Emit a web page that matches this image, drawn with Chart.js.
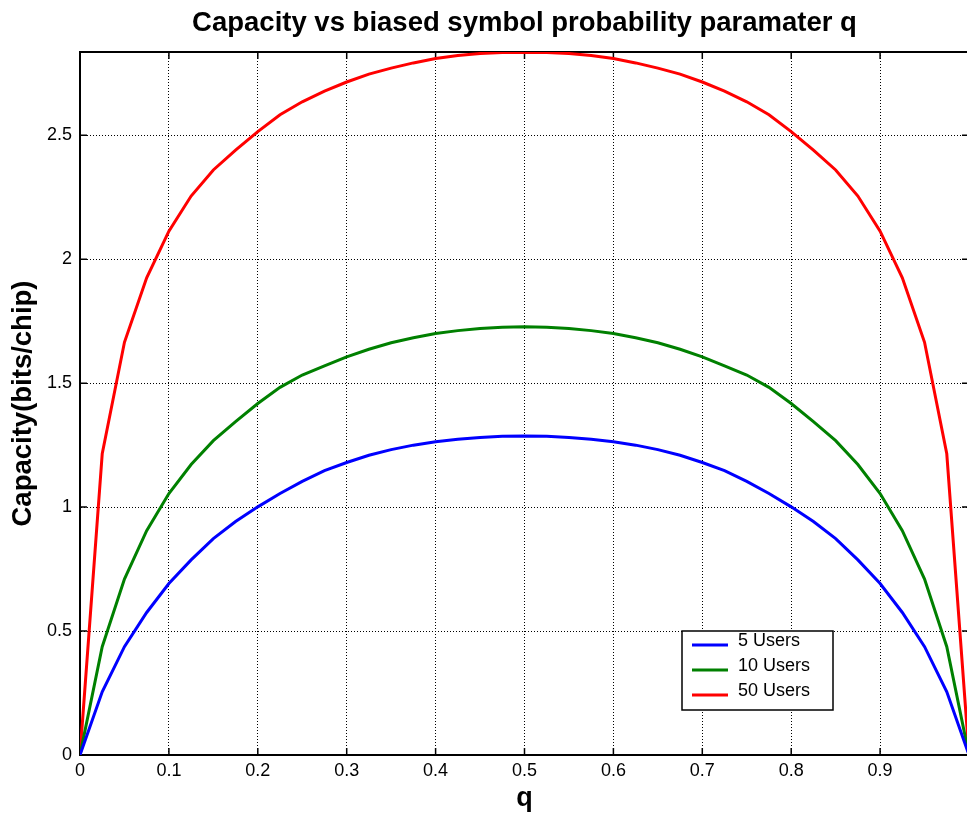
<!DOCTYPE html>
<html>
<head>
<meta charset="utf-8">
<script src="https://cdn.jsdelivr.net/npm/chart.js@4/dist/chart.umd.min.js"></script>
<style>
  html, body { margin: 0; padding: 0; overflow: hidden; background: #fff; }
  #wrap { width: 967px; height: 813px; overflow: hidden; position: relative; }
  #grafico { display: block; }
</style>
</head>
<body>
<div id="wrap"><canvas id="grafico" width="975" height="813" style="width:975px;height:813px"></canvas></div>
<script>
// valores
const q = [0, 0.025, 0.05, 0.075, 0.1, 0.125, 0.15, 0.175, 0.2, 0.225, 0.25, 0.275, 0.3, 0.325, 0.35, 0.375, 0.4, 0.425, 0.45, 0.475, 0.5,
  0.525, 0.55, 0.575, 0.6, 0.625, 0.65, 0.675, 0.7, 0.725, 0.75, 0.775, 0.8, 0.825, 0.85, 0.875, 0.9, 0.925, 0.95, 0.975, 1];

const users5 = [0, 0.255, 0.437, 0.575, 0.692, 0.787, 0.873, 0.942, 1.001, 1.055, 1.104, 1.147, 1.18, 1.209, 1.232, 1.25, 1.264, 1.274, 1.281, 1.286, 1.287,
  1.286, 1.281, 1.274, 1.264, 1.25, 1.232, 1.209, 1.18, 1.147, 1.104, 1.055, 1.001, 0.942, 0.873, 0.787, 0.692, 0.575, 0.437, 0.255, 0];

const users10 = [0, 0.437, 0.71, 0.905, 1.055, 1.172, 1.268, 1.345, 1.418, 1.483, 1.533, 1.57, 1.606, 1.637, 1.663, 1.683, 1.7, 1.712, 1.721, 1.726, 1.728,
  1.726, 1.721, 1.712, 1.7, 1.683, 1.663, 1.637, 1.606, 1.57, 1.533, 1.483, 1.418, 1.345, 1.268, 1.172, 1.055, 0.905, 0.71, 0.437, 0];

const users50 = [0, 1.215, 1.665, 1.925, 2.113, 2.255, 2.36, 2.44, 2.515, 2.583, 2.635, 2.678, 2.715, 2.747, 2.771, 2.792, 2.81, 2.822, 2.83, 2.834, 2.835,
  2.834, 2.83, 2.822, 2.81, 2.792, 2.771, 2.747, 2.715, 2.678, 2.635, 2.583, 2.515, 2.44, 2.36, 2.255, 2.113, 1.925, 1.665, 1.215, 0];

const etiquetas = ['5 Users', '10 Users', '50 Users'];
const colores = ['#0000ff', '#008000', '#ff0000'];

const fuente = '"Liberation Sans", Arial, Helvetica, sans-serif';

function puntos(serie) {
  return q.map((x, i) => ({ x: x, y: serie[i] }));
}

// marco superior/derecho y marcas hacia adentro
const marco = {
  id: 'marco',
  beforeDatasetsDraw(chart) {
    const { ctx, chartArea: a, scales: { x, y } } = chart;
    ctx.save();
    ctx.strokeStyle = '#000';
    ctx.lineWidth = 2;
    ctx.beginPath();
    ctx.moveTo(a.left, a.top);
    ctx.lineTo(a.right, a.top);
    ctx.lineTo(a.right, a.bottom);
    ctx.stroke();
    ctx.lineWidth = 1.5;
    ctx.beginPath();
    x.ticks.forEach(t => {
      const px = x.getPixelForValue(t.value);
      ctx.moveTo(px, a.bottom); ctx.lineTo(px, a.bottom - 7);
      ctx.moveTo(px, a.top); ctx.lineTo(px, a.top + 7);
    });
    y.ticks.forEach(t => {
      const py = y.getPixelForValue(t.value);
      ctx.moveTo(a.left, py); ctx.lineTo(a.left + 7, py);
      ctx.moveTo(a.right, py); ctx.lineTo(a.right - 7, py);
    });
    ctx.stroke();
    ctx.restore();
  }
};

// leyenda dentro del area del grafico
const leyenda = {
  id: 'leyenda',
  afterDatasetsDraw(chart) {
    const ctx = chart.ctx;
    const bx = 682, by = 631, bw = 151, bh = 79;
    ctx.save();
    ctx.fillStyle = '#fff';
    ctx.fillRect(bx, by, bw, bh);
    ctx.strokeStyle = '#000';
    ctx.lineWidth = 1.5;
    ctx.strokeRect(bx, by, bw, bh);
    chart.data.datasets.forEach((ds, i) => {
      const yy = by + 14 + i * 25;
      ctx.strokeStyle = ds.borderColor;
      ctx.lineWidth = 3;
      ctx.beginPath();
      ctx.moveTo(bx + 10, yy);
      ctx.lineTo(bx + 46, yy);
      ctx.stroke();
      ctx.fillStyle = '#000';
      ctx.font = '18px ' + fuente;
      ctx.textBaseline = 'middle';
      ctx.fillText(ds.label, bx + 56, yy - 4);
    });
    ctx.restore();
  }
};

const ctx = document.getElementById('grafico').getContext('2d');

new Chart(ctx, {
  type: 'line',
  data: {
    datasets: [users5, users10, users50].map((serie, i) => ({
      label: etiquetas[i],
      data: puntos(serie),
      borderColor: colores[i],
      backgroundColor: colores[i],
      borderWidth: 3,
      pointRadius: 0,
      tension: 0,
      fill: false
    }))
  },
  options: {
    responsive: false,
    animation: false,
    layout: { padding: { left: 0, right: 6, top: 0, bottom: 0 } },
    plugins: {
      legend: { display: false },
      tooltip: { enabled: false },
      title: {
        display: true,
        text: 'Capacity vs biased symbol probability paramater q',
        color: '#000',
        fullSize: false,
        font: { family: fuente, size: 27.5, weight: 'bold', lineHeight: 1.2 },
        padding: { top: 6.5, bottom: 12.5 }
      }
    },
    scales: {
      x: {
        type: 'linear',
        min: 0,
        max: 1,
        afterFit(s) { s.height = 58; },
        grid: { color: '#000', lineWidth: 1, drawTicks: false },
        border: { display: true, color: '#000', width: 2, dash: [1, 2] },
        ticks: {
          stepSize: 0.1,
          includeBounds: false,
          autoSkip: false,
          maxRotation: 0,
          padding: 5,
          color: '#000',
          font: { family: fuente, size: 18 },
          callback: v => (Math.abs(v - 1) < 1e-9 ? '' : String(Math.round(v * 10) / 10))
        },
        title: {
          display: true,
          text: 'q',
          color: '#000',
          font: { family: fuente, size: 27, weight: 'bold' },
          padding: { top: 0, bottom: -2 }
        }
      },
      y: {
        min: 0,
        max: 2.836,
        afterFit(s) { s.width = 80; },
        grid: { color: '#000', lineWidth: 1, drawTicks: false },
        border: { display: true, color: '#000', width: 2, dash: [1, 2] },
        ticks: {
          stepSize: 0.5,
          includeBounds: false,
          padding: 8,
          color: '#000',
          font: { family: fuente, size: 18 },
          callback: v => String(Math.round(v * 10) / 10)
        },
        title: {
          display: true,
          text: 'Capacity(bits/chip)',
          color: '#000',
          font: { family: fuente, size: 27.5, weight: 'bold' },
          padding: { top: 7, bottom: 0 }
        }
      }
    }
  },
  plugins: [marco, leyenda]
});
</script>
</body>
</html>
